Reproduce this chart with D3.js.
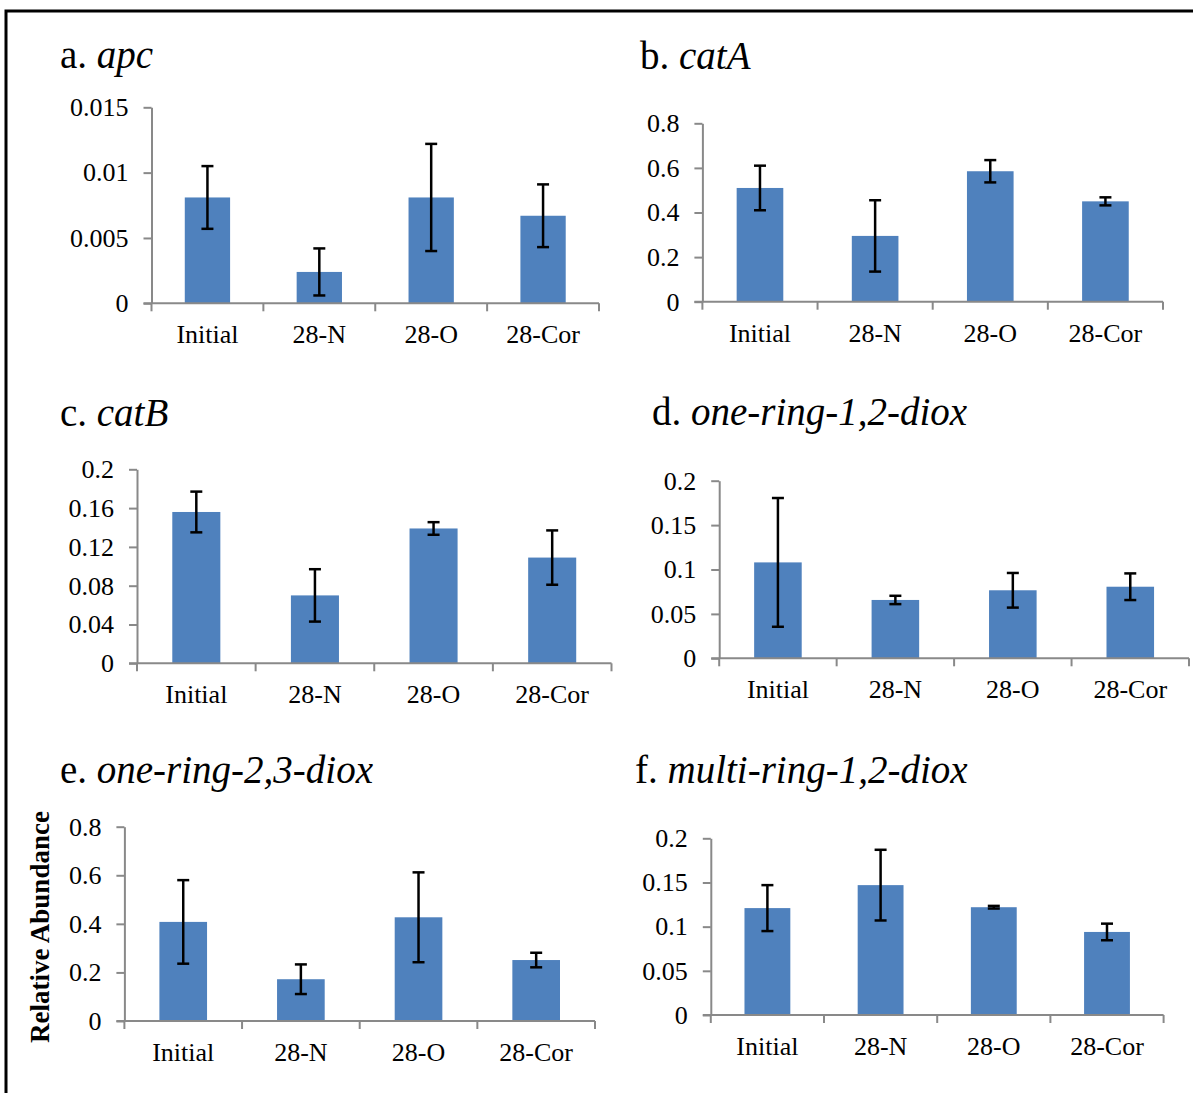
<!DOCTYPE html>
<html>
<head>
<meta charset="utf-8">
<script src="https://cdn.jsdelivr.net/npm/d3@7"></script>
<style>
  body { margin: 0; background: #fff; }
  svg text { font-family: "Liberation Serif", "Times New Roman", serif; fill: #000; }
</style>
</head>
<body>
<svg id="chart" width="1193" height="1093"></svg>
<script>
// categories shared by all six panels
var categories = ['Initial', '28-N', '28-O', '28-Cor'];

// a. apc
var apcMean = [0.0081, 0.0024, 0.0081, 0.0067];
var apcErr = [0.0024, 0.0018, 0.0041, 0.0024];
var apcTicks = [0, 0.005, 0.01, 0.015];
var apcTickLabels = ['0', '0.005', '0.01', '0.015'];

// b. catA
var catAMean = [0.51, 0.295, 0.585, 0.45];
var catAErr = [0.10, 0.16, 0.05, 0.018];
var catATicks = [0, 0.2, 0.4, 0.6, 0.8];
var catATickLabels = ['0', '0.2', '0.4', '0.6', '0.8'];

// c. catB
var catBMean = [0.156, 0.07, 0.139, 0.109];
var catBErr = [0.021, 0.027, 0.0065, 0.028];
var catBTicks = [0, 0.04, 0.08, 0.12, 0.16, 0.2];
var catBTickLabels = ['0', '0.04', '0.08', '0.12', '0.16', '0.2'];

// d. one-ring-1,2-diox
var or12Mean = [0.108, 0.0657, 0.0766, 0.0806];
var or12Err = [0.0725, 0.0047, 0.0195, 0.015];
var or12Ticks = [0, 0.05, 0.1, 0.15, 0.2];
var or12TickLabels = ['0', '0.05', '0.1', '0.15', '0.2'];

// e. one-ring-2,3-diox
var or23Mean = [0.408, 0.172, 0.427, 0.251];
var or23Err = [0.172, 0.061, 0.185, 0.03];
var or23Ticks = [0, 0.2, 0.4, 0.6, 0.8];
var or23TickLabels = ['0', '0.2', '0.4', '0.6', '0.8'];

// f. multi-ring-1,2-diox
var mr12Mean = [0.121, 0.147, 0.122, 0.094];
var mr12Err = [0.026, 0.04, 0.0015, 0.0094];
var mr12Ticks = [0, 0.05, 0.1, 0.15, 0.2];
var mr12TickLabels = ['0', '0.05', '0.1', '0.15', '0.2'];

var svg = d3.select('#chart');

// outer frame (runs off the right and bottom edge like the scan)
svg.append('rect')
  .attr('x', 6).attr('y', 11)
  .attr('width', 1200).attr('height', 1100)
  .attr('fill', 'none')
  .attr('stroke', '#000')
  .attr('stroke-width', 3);

var panels = [
  {letter: 'a.', gene: 'apc', mean: apcMean, err: apcErr, ticks: apcTicks, labels: apcTickLabels,
   left: 151.5, right: 599, top: 107.3, bottom: 303.3, tx: 60, ty: 68},
  {letter: 'b.', gene: 'catA', mean: catAMean, err: catAErr, ticks: catATicks, labels: catATickLabels,
   left: 702.4, right: 1163, top: 123.3, bottom: 301.7, tx: 640, ty: 69},
  {letter: 'c.', gene: 'catB', mean: catBMean, err: catBErr, ticks: catBTicks, labels: catBTickLabels,
   left: 137, right: 611.5, top: 469.3, bottom: 663.3, tx: 60, ty: 426},
  {letter: 'd.', gene: 'one-ring-1,2-diox', mean: or12Mean, err: or12Err, ticks: or12Ticks, labels: or12TickLabels,
   left: 719.2, right: 1189, top: 480.7, bottom: 658.3, tx: 652, ty: 425},
  {letter: 'e.', gene: 'one-ring-2,3-diox', mean: or23Mean, err: or23Err, ticks: or23Ticks, labels: or23TickLabels,
   left: 124.4, right: 595, top: 826.7, bottom: 1021, tx: 60, ty: 783},
  {letter: 'f.', gene: 'multi-ring-1,2-diox', mean: mr12Mean, err: mr12Err, ticks: mr12Ticks, labels: mr12TickLabels,
   left: 710.8, right: 1163.6, top: 838.3, bottom: 1015, tx: 635, ty: 783}
];

panels.forEach(function(p) {
  var g = svg.append('g');
  var ymax = d3.max(p.ticks);

  var x = d3.scaleBand().domain(categories).range([p.left, p.right]);
  var y = d3.scaleLinear().domain([0, ymax]).range([p.bottom, p.top]);
  var bw = x.bandwidth() * 0.405;

  // title
  var t = g.append('text')
    .attr('x', p.tx).attr('y', p.ty)
    .style('font-size', '39px');
  t.append('tspan').text(p.letter + ' ');
  t.append('tspan').style('font-style', 'italic').text(p.gene);

  // bars
  g.selectAll('rect.bar')
    .data(p.mean)
    .enter().append('rect')
    .attr('class', 'bar')
    .attr('x', function(d, i) { return x(categories[i]) + (x.bandwidth() - bw) / 2; })
    .attr('y', function(d) { return y(d); })
    .attr('width', bw)
    .attr('height', function(d) { return y(0) - y(d); })
    .attr('fill', '#4f81bd');

  // y axis
  var yAxis = d3.axisLeft(y)
    .tickValues(p.ticks)
    .tickFormat(function(d, i) { return p.labels[i]; })
    .tickSize(8)
    .tickPadding(15)
    .tickSizeOuter(0);
  var ya = g.append('g')
    .attr('transform', 'translate(' + p.left + ',0)')
    .attr('font-family', '"Liberation Serif", serif')
    .call(yAxis);
  ya.select('.domain').attr('stroke', '#898989').attr('stroke-width', 2);
  ya.selectAll('.tick line').attr('stroke', '#898989').attr('stroke-width', 2);
  ya.selectAll('.tick text')
    .style('font-size', '26px')
    .attr('fill', '#000');

  // x axis: ticks on the band edges like Excel
  var edges = categories.map(function(c) { return x(c); }).concat([p.right]);
  var xa = g.append('g').attr('transform', 'translate(0,' + p.bottom + ')');
  xa.append('line')
    .attr('x1', p.left - 8).attr('x2', p.right)
    .attr('stroke', '#898989').attr('stroke-width', 2);
  xa.selectAll('line.xt')
    .data(edges)
    .enter().append('line')
    .attr('class', 'xt')
    .attr('x1', function(d) { return d; })
    .attr('x2', function(d) { return d; })
    .attr('y1', 0).attr('y2', 8)
    .attr('stroke', '#898989').attr('stroke-width', 2);
  xa.selectAll('text')
    .data(categories)
    .enter().append('text')
    .attr('x', function(d) { return x(d) + x.bandwidth() / 2; })
    .attr('y', 40)
    .attr('text-anchor', 'middle')
    .style('font-size', '26px')
    .text(function(d) { return d; });

  // error bars
  var eb = g.selectAll('g.err')
    .data(p.mean)
    .enter().append('g')
    .attr('class', 'err');
  eb.append('line')
    .attr('x1', function(d, i) { return x(categories[i]) + x.bandwidth() / 2; })
    .attr('x2', function(d, i) { return x(categories[i]) + x.bandwidth() / 2; })
    .attr('y1', function(d, i) { return y(d + p.err[i]); })
    .attr('y2', function(d, i) { return y(d - p.err[i]); })
    .attr('stroke', '#000').attr('stroke-width', 2.5);
  [1, -1].forEach(function(s) {
    eb.append('line')
      .attr('x1', function(d, i) { return x(categories[i]) + x.bandwidth() / 2 - 6; })
      .attr('x2', function(d, i) { return x(categories[i]) + x.bandwidth() / 2 + 6; })
      .attr('y1', function(d, i) { return y(d + s * p.err[i]); })
      .attr('y2', function(d, i) { return y(d + s * p.err[i]); })
      .attr('stroke', '#000').attr('stroke-width', 2.5);
  });
});

// shared y axis title
svg.append('text')
  .attr('transform', 'translate(49,927) rotate(-90)')
  .attr('text-anchor', 'middle')
  .style('font-size', '27px')
  .style('font-weight', 'bold')
  .text('Relative Abundance');
</script>
</body>
</html>
